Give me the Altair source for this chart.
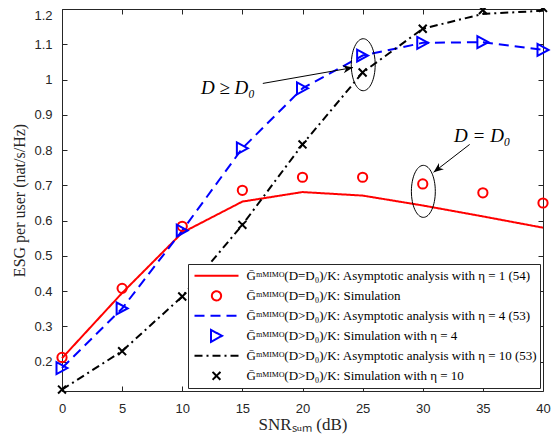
import altair as alt
import pandas as pd

# ---------------- data ----------------
snr = [0, 5, 10, 15, 20, 25, 30, 35, 40]
asym_eta1 = [0.210, 0.395, 0.566, 0.654, 0.681, 0.671, 0.643, 0.612, 0.580]
sim_eq = [0.212, 0.408, 0.584, 0.686, 0.723, 0.723, 0.704, 0.679, 0.650]
asym_eta4 = [0.182, 0.351, 0.572, 0.805, 0.975, 1.068, 1.104, 1.106, 1.084]
sim_eta4 = [0.182, 0.351, 0.572, 0.805, 0.975, 1.068, 1.104, 1.106, 1.084]
asym_eta10 = [0.121, 0.230, 0.385, 0.588, 0.816, 1.020, 1.144, 1.186, 1.195]
sim_eta10 = [0.121, 0.230, 0.385, 0.588, 0.816, 1.020, 1.144, 1.197, 1.203]

x_ticks = [0, 5, 10, 15, 20, 25, 30, 35, 40]
y_ticks = [0.2, 0.3, 0.4, 0.5, 0.6, 0.7, 0.8, 0.9, 1.0, 1.1, 1.2]

lab_a1 = "Ḡᵐᴹᴵᴹᴼ(D=D₀)/K: Asymptotic analysis with η = 1 (54)"
lab_s1 = "Ḡᵐᴹᴵᴹᴼ(D=D₀)/K: Simulation"
lab_a4 = "Ḡᵐᴹᴵᴹᴼ(D>D₀)/K: Asymptotic analysis with η = 4 (53)"
lab_s4 = "Ḡᵐᴹᴵᴹᴼ(D>D₀)/K: Simulation with η = 4"
lab_a10 = "Ḡᵐᴹᴵᴹᴼ(D>D₀)/K: Asymptotic analysis with η = 10 (53)"
lab_s10 = "Ḡᵐᴹᴵᴹᴼ(D>D₀)/K: Simulation with η = 10"
series_order = [lab_a1, lab_s1, lab_a4, lab_s4, lab_a10, lab_s10]

# annotations (data coordinates)
ell_x = [25.05, 30.05]
ell_y = [1.042, 0.683]
arr_x1 = [16.7, 33.9]
arr_y1 = [0.989, 0.816]
arr_x2 = [24.2, 30.9]
arr_y2 = [1.034, 0.737]
arr_angle = [350, 142]
note_text = ["D ≥ D₀", "D = D₀"]
note_x = [13.8, 34.95]
note_y = [0.975, 0.841]

# ---------------- tables ----------------
rows_l = []
for name, vals in [(lab_a1, asym_eta1), (lab_a4, asym_eta4), (lab_a10, asym_eta10)]:
    for s, v in zip(snr, vals):
        rows_l.append({"snr": s, "val": v, "series": name})
df_lines = pd.DataFrame(rows_l)

rows_p = []
for name, vals in [(lab_s1, sim_eq), (lab_s4, sim_eta4), (lab_s10, sim_eta10)]:
    for s, v in zip(snr, vals):
        rows_p.append({"snr": s, "val": v, "series": name})
df_pts = pd.DataFrame(rows_p)

df_ell = pd.DataFrame({"x": ell_x, "y": ell_y})
df_arr = pd.DataFrame({"x": arr_x1, "y": arr_y1, "x2": arr_x2, "y2": arr_y2, "ang": arr_angle})
df_note = pd.DataFrame({"x": note_x, "y": note_y, "t": note_text})

# ---------------- styles ----------------
GRAY = "#262626"
colors = ["#ff0000", "#ff0000", "#0000ff", "#0000ff", "#000000", "#000000"]
circle_path = "M-0.21,0A0.21,0.21,0,1,0,0.21,0A0.21,0.21,0,1,0,-0.21,0Z"
tri_path = "M0.25,0L-0.25,-0.27L-0.25,0.27Z"
x_path = "M-0.18,-0.18L0.18,0.18M-0.18,0.18L0.18,-0.18"
shapes = ["stroke", circle_path, "stroke", tri_path, "stroke", x_path]
dashes = [[1, 0], [1, 0], [10, 6], [1, 0], [8, 4, 2, 4], [1, 0]]
ellipse_path = "M-0.46,0A0.46,1,0,1,0,0.46,0A0.46,1,0,1,0,-0.46,0Z"
head_path = "M0,0L-1,-0.4L-0.7,0L-1,0.4Z"

xs = alt.Scale(domain=[0, 40], nice=False, zero=False)
ys = alt.Scale(domain=[0.117, 1.2], nice=False, zero=False)
color_scale = alt.Scale(domain=series_order, range=colors)
shape_scale = alt.Scale(domain=series_order, range=shapes)
dash_scale = alt.Scale(domain=series_order, range=dashes)

leg = alt.Legend(
    title=None, orient="bottom-right", offset=3,
    fillColor="white", strokeColor=GRAY, padding=2,
    labelFont="Liberation Serif", labelFontSize=13, labelColor="black",
    labelLimit=600, symbolSize=1936, symbolStrokeWidth=2, symbolType="stroke",
    clipHeight=19.7, rowPadding=0, labelOffset=7, symbolOffset=3.5,
)

x_axis = alt.Axis(
    values=x_ticks, orient="bottom", offset=-5, tickSize=5, domain=False, grid=False,
    labelFlush=False, labelFont="Liberation Sans", labelFontSize=13, labelColor=GRAY,
    tickColor=GRAY, labelPadding=11,
    title="SNRₛᵤₘ (dB)", titleFont="Liberation Serif", titleFontSize=17,
    titleFontWeight="normal", titleColor=GRAY, titlePadding=1,
)
y_axis = alt.Axis(
    values=y_ticks, orient="left", offset=-5, tickSize=5, domain=False, grid=False,
    format=".1~f", labelFont="Liberation Sans", labelFontSize=13, labelColor=GRAY,
    tickColor=GRAY, labelPadding=10,
    labelBaseline={"condition": {"test": "datum.value > 1.19", "value": "top"}, "value": "middle"},
    title="ESG per user (nat/s/Hz)", titleFont="Liberation Serif", titleFontSize=16,
    titleFontWeight="normal", titleColor=GRAY, titlePadding=6,
)
x_axis_top = alt.Axis(values=x_ticks, orient="top", offset=-5, tickSize=5, domain=False,
                      grid=False, labels=False, title=None, tickColor=GRAY)
y_axis_right = alt.Axis(values=y_ticks, orient="right", offset=-5, tickSize=5, domain=False,
                        grid=False, labels=False, title=None, tickColor=GRAY)

lines = alt.Chart(df_lines).mark_line(strokeWidth=2).encode(
    x=alt.X("snr:Q", scale=xs, axis=x_axis),
    y=alt.Y("val:Q", scale=ys, axis=y_axis),
    color=alt.Color("series:N", scale=color_scale, legend=leg),
    strokeDash=alt.StrokeDash("series:N", scale=dash_scale, legend=leg),
)

points = alt.Chart(df_pts).mark_point(filled=False, strokeWidth=2, size=1936, opacity=1).encode(
    x=alt.X("snr:Q", scale=xs, axis=None),
    y=alt.Y("val:Q", scale=ys, axis=None),
    color=alt.Color("series:N", scale=color_scale, legend=leg),
    shape=alt.Shape("series:N", scale=shape_scale, legend=leg),
)

ellipses = alt.Chart(df_ell).mark_point(
    shape=ellipse_path, size=2704, filled=False, stroke="black", strokeWidth=1, opacity=1
).encode(x=alt.X("x:Q", scale=xs, axis=None), y=alt.Y("y:Q", scale=ys, axis=None))

arrow_lines = alt.Chart(df_arr).mark_rule(color="black", strokeWidth=1).encode(
    x=alt.X("x:Q", scale=xs, axis=None), y=alt.Y("y:Q", scale=ys, axis=None),
    x2="x2:Q", y2="y2:Q",
)

arrow_heads = alt.Chart(df_arr).mark_point(
    shape=head_path, size=400, filled=True, fill="black", strokeWidth=0, opacity=1
).encode(
    x=alt.X("x2:Q", scale=xs, axis=None), y=alt.Y("y2:Q", scale=ys, axis=None),
    angle=alt.Angle("ang:Q", scale=None),
)

notes = alt.Chart(df_note).mark_text(
    font="Liberation Serif", fontStyle="italic", fontSize=19, color="black",
    align="center", baseline="middle",
).encode(x=alt.X("x:Q", scale=xs, axis=None), y=alt.Y("y:Q", scale=ys, axis=None), text="t:N")

frame_axes = alt.Chart(df_lines).mark_point(opacity=0).encode(
    x=alt.X("snr:Q", scale=xs, axis=x_axis_top),
    y=alt.Y("val:Q", scale=ys, axis=y_axis_right),
)

chart = alt.layer(
    lines, points, ellipses, arrow_lines, arrow_heads, notes, frame_axes
).resolve_axis(x="independent", y="independent").properties(
    width=481, height=382, autosize="none",
    padding={"left": 54, "top": 1, "right": 8, "bottom": 48},
    background="white",
).configure_view(stroke=GRAY, strokeWidth=1)

chart.save("out.html", embed_options={"renderer": "svg", "actions": False})
